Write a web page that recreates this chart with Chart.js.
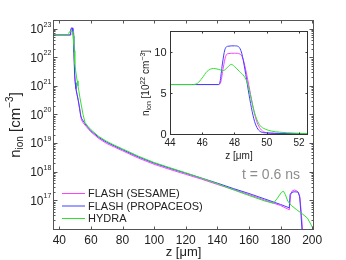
<!DOCTYPE html>
<html>
<head>
<meta charset="utf-8">
<script src="https://cdn.jsdelivr.net/npm/chart.js@4.4.0/dist/chart.umd.min.js"></script>
<style>
  html, body { margin: 0; padding: 0; background: #fff; }
  #wrap { position: relative; width: 346px; height: 260px; }
  #wrap canvas { position: absolute; left: 0; top: 0; }
</style>
</head>
<body>
<div id="wrap">
  <canvas id="mainChart" width="346" height="260"></canvas>
  <canvas id="insetChart" width="346" height="260"></canvas>
</div>
<script>
const seriesNames = ["FLASH (SESAME)", "FLASH (PROPACEOS)", "HYDRA"];
const seriesColors = ["#ff40ff", "#4040ff", "#30e030"];

// z in micrometres, ion density in cm^-3
const sesameZ = [36, 47.0, 47.15, 47.3, 47.45, 47.6, 48.0, 48.35, 48.55, 48.75, 48.95, 49.15, 49.35, 49.55, 49.8, 50.2, 50.8, 51.6, 52.4, 53.2, 54.0, 55.0, 57, 60, 65, 70, 75, 80, 90, 100, 110, 120, 130, 140, 150, 160, 170, 180, 185.5, 186.3, 187.2, 188.6, 190.0, 191.3, 192.3, 193.2, 194.0, 195.0];
const sesameN = [6.0e22, 6.0e22, 6.3e22, 8.0e22, 9.4e22, 9.75e22, 9.8e22, 9.7e22, 9.0e22, 7.3e22, 5.3e22, 3.3e22, 1.7e22, 8e21, 2.8e21, 1.2e21, 6.5e20, 4e20, 2.4e20, 1.3e20, 6.5e19, 5.2e19, 3.8e19, 2.46e19, 1.44e19, 9.7e18, 7.2e18, 5.4e18, 3.0e18, 1.82e18, 1.2e18, 8.1e17, 5.5e17, 3.6e17, 2.4e17, 1.58e17, 1.02e17, 6.6e16, 4.7e16, 1.5e17, 2.1e17, 2.3e17, 2.2e17, 1.9e17, 1.2e17, 3e16, 8e15, 1e15];

const propaceosZ = [36, 47.0, 47.1, 47.25, 47.4, 47.6, 48.0, 48.25, 48.45, 48.65, 48.85, 49.05, 49.25, 49.45, 49.65, 50.0, 50.5, 51.2, 52.0, 52.8, 53.5, 54.2, 57, 60, 65, 70, 75, 80, 90, 100, 110, 120, 130, 140, 150, 160, 170, 180, 185.5, 186.0, 186.8, 188.5, 191.0, 192.0, 192.8, 193.5, 194.5];
const propaceosN = [6.0e22, 6.0e22, 6.3e22, 8.5e22, 10.2e22, 10.65e22, 10.7e22, 10.6e22, 9.8e22, 7.8e22, 5.4e22, 3.2e22, 1.5e22, 6e21, 2.5e21, 1.3e21, 8e20, 5e20, 3e20, 1.6e20, 9e19, 7.1e19, 4.2e19, 2.7e19, 1.58e19, 1.07e19, 7.9e18, 5.9e18, 3.3e18, 2.0e18, 1.32e18, 8.9e17, 6.0e17, 4.0e17, 2.6e17, 1.74e17, 1.12e17, 7.2e16, 5.5e16, 1.6e17, 1.85e17, 2.0e17, 1.95e17, 1.4e17, 4e16, 1e16, 1e15];

const hydraZ = [36, 45.4, 45.7, 46.0, 46.3, 46.7, 47.0, 47.3, 47.55, 47.8, 48.0, 48.3, 48.6, 48.8, 49.0, 49.2, 49.4, 49.6, 49.9, 50.3, 50.8, 51.3, 51.8, 52.3, 53.0, 54.0, 55.0, 56.3, 58, 60, 65, 70, 75, 80, 90, 100, 110, 120, 130, 140, 150, 160, 170, 175.5, 178, 180.5, 181.8, 183, 184.5, 187, 190.2, 193.4, 197, 200.5];
const hydraN = [6.0e22, 6.0e22, 6.15e22, 6.8e22, 7.6e22, 7.95e22, 7.85e22, 7.7e22, 8.05e22, 8.45e22, 8.2e22, 7.6e22, 7.0e22, 6.2e22, 4.6e22, 2.9e22, 1.7e22, 1.0e22, 6e21, 3.5e21, 2.2e21, 1.5e21, 1.0e21, 7e20, 4e20, 2e20, 1.0e20, 5.2e19, 3.9e19, 2.95e19, 1.7e19, 1.15e19, 8.4e18, 6.3e18, 3.5e18, 2.1e18, 1.38e18, 9.2e17, 6.0e17, 3.8e17, 2.35e17, 1.48e17, 9.5e16, 7.9e16, 1.2e17, 1.9e17, 2.1e17, 1.6e17, 9.5e16, 6.5e16, 4.7e16, 3.5e16, 2.4e16, 1.05e16];

const mainXTicks = [40, 60, 80, 100, 120, 140, 160, 180, 200];
const mainYExponents = [17, 18, 19, 20, 21, 22, 23];
const insetXTicks = [44, 46, 48, 50, 52];
const insetYTicks = [0, 5, 10];

const FONT = "'Liberation Sans', Arial, sans-serif";
const zList = [sesameZ, propaceosZ, hydraZ];
const nList = [sesameN, propaceosN, hydraN];

function points(zs, ns, scale) {
  return zs.map((z, i) => ({ x: z, y: ns[i] * scale }));
}

function drawRich(ctx, parts, x, y, color) {
  let w = 0;
  parts.forEach(p => { ctx.font = p.size + "px " + FONT; w += ctx.measureText(p.t).width; });
  let cx = x - w / 2;
  ctx.fillStyle = color;
  ctx.textAlign = "left";
  ctx.textBaseline = "alphabetic";
  parts.forEach(p => {
    ctx.font = p.size + "px " + FONT;
    ctx.fillText(p.t, cx, y + (p.dy || 0));
    cx += ctx.measureText(p.t).width;
  });
}

const mainDecor = {
  id: "mainDecor",
  afterDraw(chart) {
    const { ctx, chartArea: a, scales: { x, y } } = chart;
    const L = Math.round(a.left) + 0.5, R = Math.round(a.right) + 0.5;
    const T = Math.round(a.top) + 0.5, B = Math.round(a.bottom) + 0.5;
    ctx.save();
    ctx.strokeStyle = "#555";
    ctx.lineWidth = 1;
    ctx.strokeRect(L, T, R - L, B - T);

    ctx.beginPath();
    mainXTicks.forEach(v => {
      const px = Math.round(x.getPixelForValue(v)) + 0.5;
      ctx.moveTo(px, B); ctx.lineTo(px, B - 3);
      ctx.moveTo(px, T); ctx.lineTo(px, T + 3);
    });
    for (let e = 16; e <= 23; e++) {
      for (let k = 1; k <= 9; k++) {
        const v = k * Math.pow(10, e);
        if (v < y.min || v > y.max) continue;
        const py = Math.round(y.getPixelForValue(v)) + 0.5;
        const len = k === 1 ? 4 : 2;
        ctx.moveTo(L, py); ctx.lineTo(L + len, py);
        ctx.moveTo(R, py); ctx.lineTo(R - len, py);
      }
    }
    ctx.stroke();

    ctx.fillStyle = "#222";
    ctx.font = "12px " + FONT;
    ctx.textAlign = "center";
    ctx.textBaseline = "middle";
    mainXTicks.forEach(v => ctx.fillText(String(v), x.getPixelForValue(v), B + 11));

    mainYExponents.forEach(e => {
      const py = y.getPixelForValue(Math.pow(10, e));
      ctx.font = "12px " + FONT;
      ctx.textAlign = "right";
      ctx.textBaseline = "middle";
      ctx.fillText("10", L - 10, py + 1);
      ctx.font = "7px " + FONT;
      ctx.textAlign = "left";
      ctx.fillText(String(e), L - 10, py - 4);
    });

    drawRich(ctx, [{ t: "z [\u03bcm]", size: 13 }], (L + R) / 2, 256, "#222");

    ctx.save();
    ctx.translate(20, (T + B) / 2);
    ctx.rotate(-Math.PI / 2);
    drawRich(ctx, [
      { t: "n", size: 15 },
      { t: "ion", size: 10, dy: 3 },
      { t: " [cm", size: 15 },
      { t: "\u22123", size: 10, dy: -7 },
      { t: "]", size: 15 }
    ], 0, 0, "#222");
    ctx.restore();

    // legend
    const legendY = [193, 205.5, 218];
    seriesNames.forEach((name, i) => {
      ctx.strokeStyle = seriesColors[i];
      ctx.beginPath();
      ctx.moveTo(62, legendY[i] + 0.5);
      ctx.lineTo(85, legendY[i] + 0.5);
      ctx.stroke();
      ctx.fillStyle = "#222";
      ctx.font = "11px " + FONT;
      ctx.textAlign = "left";
      ctx.textBaseline = "middle";
      ctx.fillText(name, 88, legendY[i] + 1);
    });

    ctx.fillStyle = "#8c8c8c";
    ctx.font = "14px " + FONT;
    ctx.textAlign = "left";
    ctx.textBaseline = "alphabetic";
    ctx.fillText("t = 0.6 ns", 242, 179);
    ctx.restore();
  }
};

const insetDecor = {
  id: "insetDecor",
  afterDraw(chart) {
    const { ctx, chartArea: a, scales: { x, y } } = chart;
    const L = Math.round(a.left) + 0.5, R = Math.round(a.right) + 0.5;
    const T = Math.round(a.top) + 0.5, B = Math.round(a.bottom) + 0.5;
    ctx.save();
    ctx.strokeStyle = "#333";
    ctx.lineWidth = 1;
    ctx.strokeRect(L, T, R - L, B - T);
    ctx.beginPath();
    insetXTicks.forEach(v => {
      const px = Math.round(x.getPixelForValue(v)) + 0.5;
      ctx.moveTo(px, B); ctx.lineTo(px, B - 2);
      ctx.moveTo(px, T); ctx.lineTo(px, T + 2);
    });
    insetYTicks.forEach(v => {
      const py = Math.round(y.getPixelForValue(v)) + 0.5;
      ctx.moveTo(L, py); ctx.lineTo(L + 2, py);
      ctx.moveTo(R, py); ctx.lineTo(R - 2, py);
    });
    ctx.stroke();

    ctx.fillStyle = "#222";
    ctx.font = "10px " + FONT;
    ctx.textAlign = "center";
    ctx.textBaseline = "middle";
    insetXTicks.forEach(v => ctx.fillText(String(v), x.getPixelForValue(v), B + 9));
    ctx.font = "11px " + FONT;
    ctx.textAlign = "right";
    insetYTicks.forEach(v => ctx.fillText(String(v), L - 4, y.getPixelForValue(v) + 1));

    drawRich(ctx, [{ t: "z [\u03bcm]", size: 10 }], (L + R) / 2, B + 24, "#222");

    ctx.save();
    ctx.translate(149, (T + B) / 2);
    ctx.rotate(-Math.PI / 2);
    drawRich(ctx, [
      { t: "n", size: 10 },
      { t: "ion", size: 7, dy: 2 },
      { t: " [10", size: 10 },
      { t: "22", size: 7, dy: -4 },
      { t: " cm", size: 10 },
      { t: "\u22123", size: 7, dy: -4 },
      { t: "]", size: 10 }
    ], 0, 0, "#222");
    ctx.restore();
    ctx.restore();
  }
};

function makeDatasets(scale, smooth) {
  return seriesNames.map((name, i) => ({
    label: name,
    data: points(zList[i], nList[i], scale),
    borderColor: seriesColors[i],
    borderWidth: 1,
    pointRadius: 0,
    fill: false,
    tension: 0,
    cubicInterpolationMode: smooth ? "monotone" : "default",
    order: 2 - i
  }));
}

new Chart(document.getElementById("mainChart"), {
  type: "line",
  data: { datasets: makeDatasets(1, false) },
  options: {
    responsive: false,
    animation: false,
    events: [],
    layout: { padding: { left: 53, right: 33, top: 20, bottom: 31 } },
    plugins: { legend: { display: false }, tooltip: { enabled: false } },
    scales: {
      x: { type: "linear", min: 36, max: 200.5, display: false },
      y: { type: "logarithmic", min: 1e16, max: 2e23, display: false }
    }
  },
  plugins: [mainDecor]
});

new Chart(document.getElementById("insetChart"), {
  type: "line",
  data: { datasets: makeDatasets(1e-22, true) },
  options: {
    responsive: false,
    animation: false,
    events: [],
    layout: { padding: { left: 170, right: 39, top: 31, bottom: 126 } },
    plugins: { legend: { display: false }, tooltip: { enabled: false } },
    scales: {
      x: { type: "linear", min: 44, max: 52.5, display: false },
      y: { type: "linear", min: 0, max: 12.5, display: false }
    }
  },
  plugins: [insetDecor]
});
</script>
</body>
</html>
